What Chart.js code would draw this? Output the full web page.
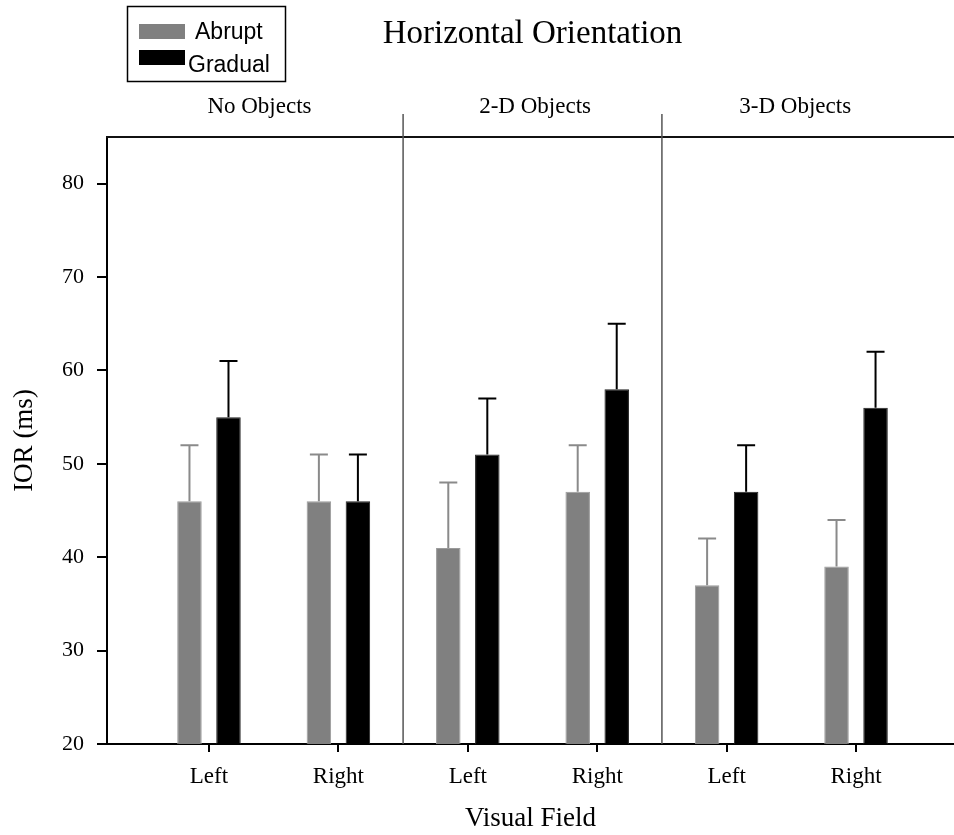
<!DOCTYPE html>
<html><head><meta charset="utf-8">
<script src="https://cdn.jsdelivr.net/npm/chart.js@4.4.0/dist/chart.umd.min.js"></script>
<style>html,body{margin:0;padding:0;background:#fff;}</style>
</head><body>
<canvas id="c" width="954" height="835" style="display:block;width:954px;height:835px"></canvas>
<script>
const chartTitle = 'Horizontal Orientation';
const groupLabels = ['No Objects', '2-D Objects', '3-D Objects'];
const fieldLabels = ['Left', 'Right', 'Left', 'Right', 'Left', 'Right'];
const seriesNames = ['Abrupt', 'Gradual'];
const abrupt = [46, 46, 41, 47, 37, 39];
const abruptErr = [6, 5, 7, 5, 5, 5];
const gradual = [55, 46, 51, 58, 47, 56];
const gradualErr = [6, 5, 6, 7, 5, 6];
const yTicks = [20, 30, 40, 50, 60, 70, 80];
const yTitle = 'IOR (ms)';
const xTitle = 'Visual Field';

const SERIF = "'Liberation Serif', 'Times New Roman', serif";
const SANS = "'Liberation Sans', Arial, sans-serif";

const errors = [abruptErr, gradualErr];
const errColors = ['#8a8a8a', '#000000'];

const errorBarPlugin = {
  id: 'errorBars',
  afterDatasetsDraw(chart) {
    const ctx = chart.ctx;
    const ys = chart.scales.y;
    chart.data.datasets.forEach((ds, di) => {
      const meta = chart.getDatasetMeta(di);
      meta.data.forEach((bar, i) => {
        const v = ds.data[i].y;
        const top = ys.getPixelForValue(v + errors[di][i]);
        ctx.save();
        ctx.strokeStyle = errColors[di];
        ctx.lineWidth = 2;
        ctx.beginPath();
        ctx.moveTo(bar.x, bar.y);
        ctx.lineTo(bar.x, top);
        ctx.moveTo(bar.x - 9, top);
        ctx.lineTo(bar.x + 9, top);
        ctx.stroke();
        ctx.restore();
      });
    });
  }
};

const decorPlugin = {
  id: 'decor',
  afterDraw(chart) {
    const ctx = chart.ctx;
    const a = chart.chartArea;
    const xs = chart.scales.x;
    ctx.save();
    // top frame line
    ctx.strokeStyle = '#111';
    ctx.lineWidth = 2;
    ctx.beginPath();
    ctx.moveTo(a.left - 1, a.top);
    ctx.lineTo(a.right, a.top);
    ctx.stroke();
    // group separators
    ctx.strokeStyle = '#555';
    ctx.lineWidth = 1.5;
    for (let g = 0; g < groupLabels.length - 1; g++) {
      const px = xs.getPixelForValue(2 * g + 1.5);
      ctx.beginPath();
      ctx.moveTo(px, a.top - 23);
      ctx.lineTo(px, a.bottom);
      ctx.stroke();
    }
    // group labels
    const labelPos = [0.39, 2.52, 4.53];
    ctx.fillStyle = '#000';
    ctx.font = '23px ' + SERIF;
    ctx.textAlign = 'center';
    ctx.textBaseline = 'alphabetic';
    groupLabels.forEach((t, g) => {
      ctx.fillText(t, xs.getPixelForValue(labelPos[g]), 113);
    });
    // title
    ctx.font = '33px ' + SERIF;
    ctx.fillText(chartTitle, (a.left + a.right) / 2 + 2, 43);
    // legend
    ctx.strokeStyle = '#000';
    ctx.lineWidth = 1.5;
    ctx.strokeRect(127.5, 6.5, 158, 75);
    const sw = [[139, 24], [139, 50]];
    const tx = [[195, 39], [188, 72]];
    ctx.font = '23px ' + SANS;
    ctx.textAlign = 'left';
    chart.data.datasets.forEach((ds, i) => {
      ctx.fillStyle = ds.backgroundColor;
      ctx.fillRect(sw[i][0], sw[i][1], 46, 15);
      ctx.fillStyle = '#000';
      ctx.fillText(ds.label, tx[i][0], tx[i][1]);
    });
    ctx.restore();
  }
};

const toPoints = arr => arr.map((v, i) => ({ x: i, y: v }));

new Chart(document.getElementById('c'), {
  type: 'bar',
  data: {
    datasets: [
      { label: seriesNames[0], data: toPoints(abrupt), backgroundColor: '#808080', borderColor: '#9a9a9a', borderWidth: 1 },
      { label: seriesNames[1], data: toPoints(gradual), backgroundColor: '#000000', borderColor: '#222', borderWidth: 1 }
    ]
  },
  options: {
    responsive: false,
    animation: false,
    events: [],
    layout: { padding: { top: 137, left: 0, right: 0, bottom: 0 } },
    categoryPercentage: 0.603,
    barPercentage: 0.628,
    plugins: { legend: { display: false }, tooltip: { enabled: false }, title: { display: false } },
    scales: {
      x: {
        type: 'linear',
        min: -0.788,
        max: 5.757,
        offset: false,
        afterFit: s => { s.height = 91; },
        afterBuildTicks: s => { s.ticks = fieldLabels.map((_, i) => ({ value: i })); },
        grid: { display: true, offset: false, drawOnChartArea: false, drawTicks: true, tickLength: 8, color: '#000', lineWidth: 2 },
        border: { display: true, color: '#000', width: 2 },
        ticks: {
          autoSkip: false, maxRotation: 0, padding: 11,
          color: '#000', font: { family: SERIF, size: 23 },
          callback: v => fieldLabels[v]
        },
        title: { display: true, text: xTitle, color: '#000', font: { family: SERIF, size: 27 }, padding: { top: 0, bottom: 0 } }
      },
      y: {
        min: 20,
        max: 85,
        afterFit: s => { s.width = 107; },
        afterBuildTicks: s => { s.ticks = yTicks.map(v => ({ value: v })); },
        grid: { display: true, drawOnChartArea: false, drawTicks: true, tickLength: 10, color: '#000', lineWidth: 2 },
        border: { display: true, color: '#000', width: 2 },
        ticks: { padding: 13, color: '#000', font: { family: SERIF, size: 22 } },
        title: { display: true, text: yTitle, color: '#000', font: { family: SERIF, size: 27 }, padding: { top: 9, bottom: 0 } }
      }
    }
  },
  plugins: [errorBarPlugin, decorPlugin]
});
</script>
</body></html>
